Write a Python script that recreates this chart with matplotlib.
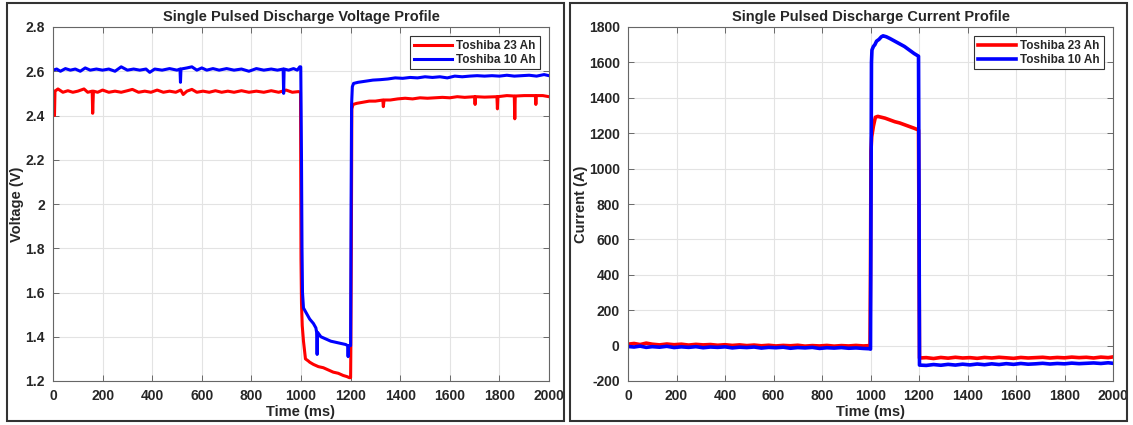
import numpy as np
import matplotlib
matplotlib.use("Agg")
import matplotlib.pyplot as plt
from matplotlib.patches import Rectangle

plt.rcParams['font.family'] = ['Liberation Sans', 'DejaVu Sans']
plt.rcParams['font.weight'] = 'bold'
plt.rcParams['axes.unicode_minus'] = False

# # voltage, Toshiba 23 Ah (time ms, volts)
t_v23 = [0, 4, 6, 8, 20, 40, 60, 80, 100, 125, 140, 158, 160, 163, 180, 200, 225, 250, 275, 300,
         320, 345, 370, 395, 420, 445, 470, 495, 515, 525, 540, 560, 580, 605, 630, 655, 680, 705,
         730, 760, 790, 820, 850, 880, 910, 940, 965, 990, 998,
         1000, 1002, 1005, 1010, 1018, 1030, 1035, 1050, 1070, 1090, 1110, 1130, 1150, 1170, 1185,
         1195, 1200, 1201, 1203, 1205, 1210, 1225, 1250, 1275, 1300, 1330, 1332, 1335, 1360, 1390,
         1420, 1450, 1480, 1510, 1540, 1570, 1600, 1630, 1660, 1700, 1702, 1704, 1740, 1790, 1792,
         1794, 1830, 1860, 1862, 1864, 1900, 1945, 1947, 1949, 1975, 2000]
v23 = [2.51, 2.51, 2.40, 2.51, 2.52, 2.505, 2.512, 2.505, 2.51, 2.52, 2.505, 2.51, 2.41, 2.51, 2.505,
       2.515, 2.505, 2.51, 2.505, 2.512, 2.518, 2.505, 2.51, 2.505, 2.515, 2.505, 2.51, 2.505, 2.515,
       2.495, 2.51, 2.518, 2.505, 2.51, 2.505, 2.512, 2.505, 2.51, 2.505, 2.512, 2.505, 2.51, 2.505,
       2.512, 2.505, 2.515, 2.505, 2.508, 2.505,
       1.75, 1.55, 1.45, 1.38, 1.30, 1.29, 1.285, 1.275, 1.265, 1.26, 1.25, 1.24, 1.235, 1.225, 1.22,
       1.215, 1.215, 1.35, 1.8, 2.43, 2.45, 2.455, 2.46, 2.465, 2.465, 2.47, 2.44, 2.47, 2.47, 2.475,
       2.478, 2.475, 2.48, 2.478, 2.48, 2.482, 2.48, 2.485, 2.482, 2.485, 2.45, 2.485, 2.483, 2.485,
       2.43, 2.485, 2.49, 2.488, 2.385, 2.488, 2.49, 2.49, 2.45, 2.49, 2.49, 2.485]

# # voltage, Toshiba 10 Ah
t_v10 = [0, 15, 30, 50, 70, 90, 110, 130, 150, 175, 200, 225, 250, 275, 300, 325, 350, 375, 390, 410,
         440, 470, 500, 512, 514, 516, 540, 560, 580, 600, 620, 645, 670, 700, 730, 760, 790, 820,
         850, 880, 905, 928, 930, 932, 950, 970, 985, 995,
         999, 1002, 1004, 1006, 1010, 1020, 1035, 1050, 1060, 1063, 1065, 1067, 1080, 1100, 1120,
         1140, 1160, 1180, 1188, 1190, 1192, 1200, 1202, 1204, 1207, 1212, 1230, 1260, 1290, 1320,
         1350, 1380, 1410, 1440, 1470, 1500, 1530, 1560, 1590, 1620, 1650, 1680, 1710, 1740, 1770,
         1800, 1830, 1860, 1890, 1920, 1950, 1980, 2000]
v10 = [2.605, 2.61, 2.6, 2.612, 2.605, 2.61, 2.6, 2.615, 2.605, 2.61, 2.605, 2.61, 2.6, 2.62, 2.605,
       2.61, 2.605, 2.61, 2.595, 2.61, 2.605, 2.612, 2.605, 2.61, 2.55, 2.61, 2.615, 2.62, 2.605,
       2.615, 2.605, 2.612, 2.605, 2.612, 2.605, 2.61, 2.6, 2.612, 2.605, 2.61, 2.605, 2.61, 2.50,
       2.61, 2.605, 2.612, 2.605, 2.62,
       2.62, 2.2, 1.8, 1.6, 1.53, 1.51, 1.48, 1.46, 1.44, 1.42, 1.32, 1.42, 1.40, 1.39, 1.38, 1.375,
       1.37, 1.365, 1.36, 1.31, 1.36, 1.36, 2.0, 2.45, 2.53, 2.545, 2.55, 2.555, 2.56, 2.562, 2.565,
       2.57, 2.568, 2.572, 2.57, 2.575, 2.572, 2.575, 2.57, 2.578, 2.575, 2.578, 2.58, 2.578, 2.58,
       2.578, 2.582, 2.578, 2.58, 2.582, 2.578, 2.585, 2.58]

# # current, Toshiba 23 Ah (time ms, amps)
t_i23 = [0, 25, 50, 75, 100, 130, 160, 190, 220, 250, 280, 310, 340, 370, 400, 430, 460, 490, 520,
         550, 580, 610, 640, 670, 700, 730, 760, 790, 820, 850, 880, 910, 940, 970, 998,
         1000, 1002, 1005, 1012, 1020, 1030, 1045, 1060, 1080, 1100, 1120, 1140, 1160, 1180, 1198,
         1200, 1202, 1230, 1260, 1290, 1320, 1350, 1380, 1410, 1440, 1470, 1500, 1530, 1560, 1590,
         1620, 1650, 1680, 1710, 1740, 1770, 1800, 1830, 1860, 1890, 1920, 1950, 1980, 2000]
i23 = [8, 12, 6, 14, 8, 4, 9, 5, 8, 3, 7, 4, 6, 2, 5, 1, 4, 0, 3, -1, 2, -2, 1, -1, 2, -3, 0, -2, 1,
       -3, 0, -2, 1, -2, 0,
       400, 1100, 1180, 1240, 1290, 1295, 1290, 1285, 1275, 1265, 1258, 1248, 1238, 1228, 1218,
       600, -70, -68, -73, -67, -71, -66, -70, -68, -72, -67, -70, -66, -69, -72, -67, -70, -68,
       -66, -70, -67, -69, -65, -68, -66, -70, -65, -68, -64]

# # current, Toshiba 10 Ah
t_i10 = [0, 25, 50, 75, 100, 130, 160, 190, 220, 250, 280, 310, 340, 370, 400, 430, 460, 490, 520,
         550, 580, 610, 640, 670, 700, 730, 760, 790, 820, 850, 880, 910, 940, 970, 998,
         1000, 1002, 1004, 1006, 1012, 1018, 1025, 1035, 1045, 1052, 1065, 1080, 1100, 1120, 1140,
         1160, 1180, 1198, 1200, 1202, 1230, 1260, 1290, 1320, 1350, 1380, 1410, 1440, 1470, 1500,
         1530, 1560, 1590, 1620, 1650, 1680, 1710, 1740, 1770, 1800, 1830, 1860, 1890, 1920, 1950,
         1980, 2000]
i10 = [-5, -8, -3, -10, -6, -9, -4, -11, -7, -10, -6, -12, -8, -10, -7, -13, -9, -11, -8, -14, -10,
       -12, -9, -15, -11, -13, -10, -16, -12, -14, -11, -15, -13, -16, -18,
       -20, 800, 1600, 1670, 1690, 1700, 1720, 1730, 1745, 1750, 1745, 1735, 1720, 1705, 1690,
       1670, 1650, 1635, 900, -110, -112, -107, -111, -106, -110, -105, -109, -104, -108, -103,
       -107, -102, -106, -101, -105, -103, -100, -104, -101, -103, -99, -102, -100, -98, -101,
       -97, -100]

labels = ['Toshiba 23 Ah', 'Toshiba 10 Ah']
W, H = 1133, 425
txt = '#262626'

fig = plt.figure(figsize=(W/100, H/100), dpi=100)

# # panel frames
for x0, x1 in [(7, 564), (570, 1127)]:
    fig.patches.append(Rectangle((x0/W, 4/H), (x1-x0)/W, (422-4)/H, transform=fig.transFigure,
                                 fill=False, edgecolor='#333333', linewidth=1.5))

ax1 = fig.add_axes([53/W, (H-381)/H, (549-53)/W, (381-27)/H])
ax2 = fig.add_axes([628/W, (H-381)/H, (1113-628)/W, (381-27)/H])

ax1.plot(t_v23, v23, color='#ff0000', lw=2.2, label=labels[0])
ax1.plot(t_v10, v10, color='#0000ff', lw=2.2, label=labels[1])
ax1.set_ylim(1.2, 2.8)
ax1.set_yticks(np.arange(1.2, 2.81, 0.2))
ax1.set_yticklabels(['1.2', '1.4', '1.6', '1.8', '2', '2.2', '2.4', '2.6', '2.8'])
ax1.set_ylabel('Voltage (V)', fontsize=10.5, fontweight='bold', color=txt)
ax1.yaxis.set_label_coords(-0.058, 0.5)
ax1.set_title('Single Pulsed Discharge Voltage Profile', fontsize=10.5, fontweight='bold',
              color=txt, pad=4)

ax2.plot(t_i23, i23, color='#ff0000', lw=2.6, label=labels[0])
ax2.plot(t_i10, i10, color='#0000ff', lw=2.6, label=labels[1])
ax2.set_ylim(-200, 1800)
ax2.set_yticks(np.arange(-200, 1801, 200))
ax2.set_ylabel('Current (A)', fontsize=10.5, fontweight='bold', color=txt)
ax2.yaxis.set_label_coords(-0.082, 0.5)
ax2.set_title('Single Pulsed Discharge Current Profile', fontsize=10.5, fontweight='bold',
              color=txt, pad=4)

for ax in (ax1, ax2):
    ax.set_xlim(0, 2000)
    ax.set_xticks(np.arange(0, 2001, 200))
    ax.set_xlabel('Time (ms)', fontsize=10.5, fontweight='bold', color=txt, labelpad=1)
    ax.grid(True, color='#e3e3e3', linewidth=0.8)
    ax.set_axisbelow(True)
    ax.tick_params(direction='in', length=4, width=0.6, top=True, right=True,
                   labelsize=10, labelcolor=txt, color='#555555', pad=6)
    for lab in ax.get_xticklabels() + ax.get_yticklabels():
        lab.set_fontweight('bold')
    for s in ax.spines.values():
        s.set_color('#666666')
        s.set_linewidth(0.8)
    leg = ax.legend(loc='upper right', fontsize=8.5, frameon=True, fancybox=False,
                    edgecolor='#333333', framealpha=1, handlelength=3.2, borderpad=0.3,
                    labelspacing=0.15, handletextpad=0.4, borderaxespad=0.8)
    leg.get_frame().set_linewidth(0.8)
    for t in leg.get_texts():
        t.set_fontweight('bold')
        t.set_color(txt)

fig.savefig('out.png', dpi=100)
